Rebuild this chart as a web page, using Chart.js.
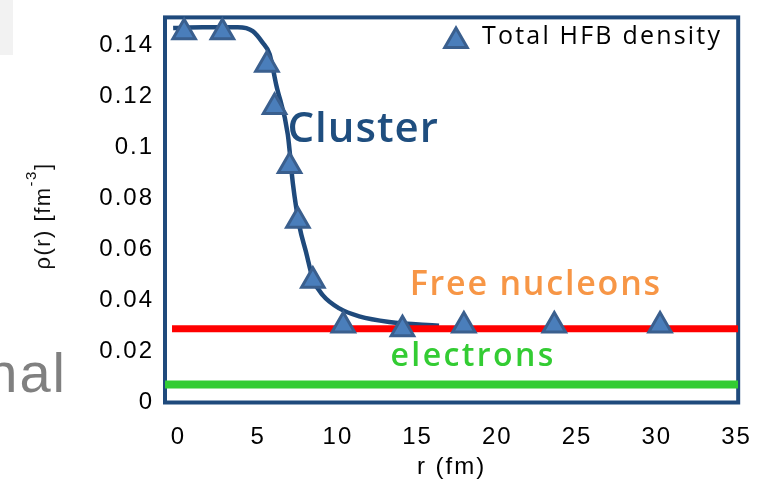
<!DOCTYPE html>
<html>
<head>
<meta charset="utf-8">
<script src="https://cdn.jsdelivr.net/npm/chart.js@4/dist/chart.umd.min.js"></script>
<style>
  html, body { margin: 0; padding: 0; background: #fff; }
  #wrap { width: 762px; height: 484px; position: relative; }
</style>
</head>
<body>
<div id="wrap"><canvas id="c"></canvas></div>
<script>
const xTicks = [0, 5, 10, 15, 20, 25, 30, 35];
const yTicks = [0, 0.02, 0.04, 0.06, 0.08, 0.1, 0.12, 0.14];

// total HFB density (triangles)
const hfbR = [0.36, 2.76, 5.55, 6.03, 6.97, 7.49, 8.43, 10.34, 14.05, 17.9, 23.57, 30.2];
const hfbRho = [0.1452, 0.1452, 0.1324, 0.1159, 0.0927, 0.0713, 0.0477, 0.0302, 0.0287, 0.0302, 0.0302, 0.0302];

// cluster profile
const clusterR = [-0.33, 1.53, 3.72, 4.66, 5.28, 5.72, 6.14, 6.86, 7.18, 7.59, 8.01, 8.43, 9.05, 10.09, 11.34, 13.22, 16.34];
const clusterRho = [0.1468, 0.1471, 0.1471, 0.1456, 0.1411, 0.1366, 0.1244, 0.1051, 0.0858, 0.0691, 0.0588, 0.0485, 0.0421, 0.0369, 0.0338, 0.0316, 0.0301];

// free nucleon gas and electron background
const gasR = [-0.4, 35.1];
const gasRho = [0.0289, 0.0289];
const electronR = [-0.84, 35.1];
const electronRho = [0.0071, 0.0071];

const navy = '#1f4a7c';
const tickFont = { family: "'Liberation Sans', Arial, sans-serif", size: 24 };
const handFont = "'Open Sans', sans-serif";

const notes = [
    { text: 'Cluster', r: 6.84, rho: 0.102, color: '#1f4e7f', size: 42, spacing: 1 },
    { text: 'Free nucleons', r: 14.5, rho: 0.0421, color: '#f79646', size: 34, spacing: 1.8 },
    { text: 'electrons', r: 13.3, rho: 0.0145, color: '#33cc33', size: 32, spacing: 2.4 },
];

function pts(xs, ys) {
    return xs.map((x, i) => ({ x, y: ys[i] }));
}

const decor = {
    id: 'decor',
    beforeDraw(chart) {
        const ctx = chart.ctx;
        ctx.save();
        ctx.fillStyle = '#f2f2f2';
        ctx.fillRect(0, 0, 13, 55);
        ctx.restore();
        ctx.letterSpacing = '2px';
    },
    beforeDatasetsDraw(chart) {
        const { ctx, chartArea: a } = chart;
        ctx.letterSpacing = '0px';
        ctx.save();
        ctx.strokeStyle = navy;
        ctx.lineWidth = 4;
        ctx.strokeRect(a.left, a.top, a.right - a.left, a.bottom - a.top);
        ctx.restore();
    },
    afterDraw(chart) {
        const { ctx, scales } = chart;
        ctx.save();
        ctx.textBaseline = 'alphabetic';
        ctx.textAlign = 'left';

        notes.forEach((n) => {
            ctx.letterSpacing = n.spacing + 'px';
            ctx.font = '600 ' + n.size + 'px ' + handFont;
            ctx.fillStyle = n.color;
            ctx.fillText(n.text, scales.x.getPixelForValue(n.r), scales.y.getPixelForValue(n.rho));
        });

        // legend
        ctx.fillStyle = '#4a7ebb';
        ctx.strokeStyle = '#3a5f8e';
        ctx.lineWidth = 3;
        Chart.helpers.drawPoint(ctx, { pointStyle: 'triangle', radius: 13, borderWidth: 3, rotation: 0 }, 456, 41);
        ctx.letterSpacing = '2.2px';
        ctx.font = '25px ' + handFont;
        ctx.fillStyle = '#000';
        ctx.fillText('Total HFB density', 482, 44);

        // y axis title with superscript
        ctx.translate(50, 216);
        ctx.rotate(-Math.PI / 2);
        ctx.fillStyle = '#111';
        ctx.letterSpacing = '1.5px';
        const main = '22px ' + tickFont.family;
        const sup = '15px ' + tickFont.family;
        ctx.font = main;
        const w1 = ctx.measureText('ρ(r) [fm').width;
        const w3 = ctx.measureText(']').width;
        ctx.font = sup;
        const w2 = ctx.measureText('-3').width;
        let x0 = -(w1 + w2 + w3) / 2;
        ctx.font = main;
        ctx.fillText('ρ(r) [fm', x0, 0);
        ctx.font = sup;
        ctx.fillText('-3', x0 + w1, -14);
        ctx.font = main;
        ctx.fillText(']', x0 + w1 + w2, 0);
        ctx.restore();

        // cut-off slide text on the left
        ctx.save();
        ctx.letterSpacing = '2px';
        ctx.font = "56px 'Liberation Sans', Arial, sans-serif";
        ctx.fillStyle = '#808080';
        ctx.textAlign = 'right';
        ctx.fillText('nal', 67, 392);
        ctx.restore();
    },
};

new Chart(document.getElementById('c'), {
    type: 'scatter',
    data: {
        datasets: [
            {
                label: 'Total HFB density',
                data: pts(hfbR, hfbRho),
                pointStyle: 'triangle',
                pointRadius: 13,
                pointBackgroundColor: '#4a7ebb',
                pointBorderColor: '#3a5f8e',
                pointBorderWidth: 3,
                showLine: false,
                clip: false,
            },
            {
                label: 'Free nucleons',
                data: pts(gasR, gasRho),
                showLine: true,
                borderColor: '#ff0000',
                borderWidth: 7,
                pointRadius: 0,
            },
            {
                label: 'Cluster',
                data: pts(clusterR, clusterRho),
                showLine: true,
                borderColor: navy,
                borderWidth: 4.5,
                pointRadius: 0,
                cubicInterpolationMode: 'monotone',
            },
            {
                label: 'electrons',
                data: pts(electronR, electronRho),
                showLine: true,
                borderColor: '#33cc33',
                borderWidth: 8,
                pointRadius: 0,
            },
        ],
    },
    options: {
        responsive: true,
        maintainAspectRatio: false,
        animation: false,
        devicePixelRatio: 1,
        layout: { padding: { top: 11, right: 22, left: 0, bottom: 0 } },
        plugins: {
            legend: { display: false },
            tooltip: { enabled: false },
        },
        scales: {
            x: {
                type: 'linear',
                min: -0.84,
                max: 35.1,
                afterBuildTicks: (s) => { s.ticks = xTicks.map((v) => ({ value: v })); },
                afterFit: (s) => { s.height = 81.5; },
                grid: { display: false },
                border: { display: false },
                ticks: {
                    color: '#000',
                    font: tickFont,
                    padding: 12,
                    maxRotation: 0,
                    autoSkip: false,
                    callback: (v) => String(v),
                },
                title: {
                    display: true,
                    text: 'r (fm)',
                    color: '#000',
                    font: tickFont,
                    padding: { top: 0, bottom: 2 },
                },
            },
            y: {
                min: 0,
                max: 0.151,
                afterBuildTicks: (s) => { s.ticks = yTicks.map((v) => ({ value: v })); },
                afterFit: (s) => { s.width = 165; },
                grid: { display: false },
                border: { display: false },
                ticks: {
                    color: '#000',
                    font: tickFont,
                    padding: 3,
                    callback: (v) => String(v),
                },
            },
        },
    },
    plugins: [decor],
});
</script>
</body>
</html>
